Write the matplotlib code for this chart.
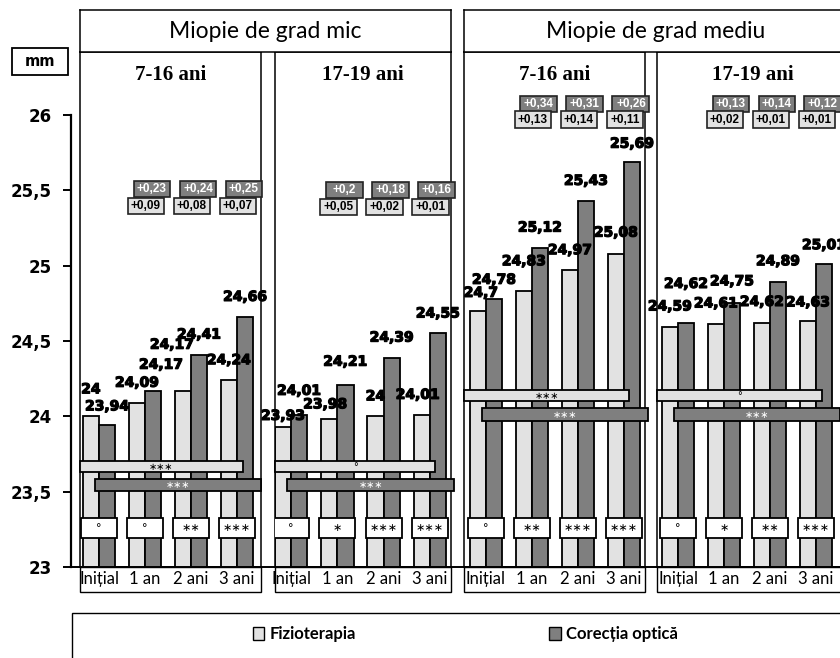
import matplotlib.pyplot as plt
import matplotlib.patheffects as pe
from matplotlib.patches import Rectangle, Patch

# data
groups = ["Miopie de grad mic", "Miopie de grad mediu"]
subgroups = ["7-16 ani", "17-19 ani", "7-16 ani", "17-19 ani"]
periods = ["Inițial", "1 an", "2 ani", "3 ani"]
series = ["Fizioterapia", "Corecția optică"]

fizio = [
    [24, 24.09, 24.17, 24.24],
    [23.93, 23.98, 24, 24.01],
    [24.7, 24.83, 24.97, 25.08],
    [24.59, 24.61, 24.62, 24.63],
]
optic = [
    [23.94, 24.17, 24.41, 24.66],
    [24.01, 24.21, 24.39, 24.55],
    [24.78, 25.12, 25.43, 25.69],
    [24.62, 24.75, 24.89, 25.01],
]
diff_fizio = [
    ["+0,09", "+0,08", "+0,07"],
    ["+0,05", "+0,02", "+0,01"],
    ["+0,13", "+0,14", "+0,11"],
    ["+0,02", "+0,01", "+0,01"],
]
diff_optic = [
    ["+0,23", "+0,24", "+0,25"],
    ["+0,2", "+0,18", "+0,16"],
    ["+0,34", "+0,31", "+0,26"],
    ["+0,13", "+0,14", "+0,12"],
]
sig_period = [
    ["°", "°", "∗∗", "∗∗∗"],
    ["°", "∗", "∗∗∗", "∗∗∗"],
    ["°", "∗∗", "∗∗∗", "∗∗∗"],
    ["°", "∗", "∗∗", "∗∗∗"],
]
trend_fizio = ["∗∗∗", "°", "∗∗∗", "°"]
trend_optic = ["∗∗∗", "∗∗∗", "∗∗∗", "∗∗∗"]

LIGHT = "#e2e2e2"
DARK = "#7f7f7f"
W, H = 840, 658
Y0, Y1 = 23, 26.418

# label placement (pixels above bar top, horizontal shift in pixels)
lab_up_fizio = [[27, 20, 46, 20], [11, 15, 20, 20], [18, 30, 20, 21], [21, 21, 21, 19]]
lab_up_optic = [[19, 26, 20, 20], [24, 23, 20, 20], [19, 20, 20, 18], [39, 22, 21, 19]]
lab_dx_fizio = [[0, 0, -11, 0], [0, -4, 0, -4], [3, 0, 0, 0], [0, 0, 0, 0]]
lab_dx_optic = [[0, 8, 0, 0], [0, 0, 0, 0], [0, 0, 0, 0], [0, 0, 0, 0]]


def fx(px):
    return px / W


def fy(py):
    return 1 - py / H


def fmt(v):
    return f"{v:g}".replace(".", ",")


fig = plt.figure(figsize=(W / 100, H / 100), dpi=100)

# y axis shared by all panels
ax0 = fig.add_axes([fx(71), fy(567), 1 - fx(71), fy(52) - fy(567)])
ax0.set_ylim(Y0, Y1)
ax0.set_xticks([])
for s in ["top", "right"]:
    ax0.spines[s].set_visible(False)
ax0.spines["left"].set_bounds(23, 26)
ax0.spines["left"].set_linewidth(1.6)
ax0.spines["bottom"].set_linewidth(1.4)
yt = [23, 23.5, 24, 24.5, 25, 25.5, 26]
ax0.set_yticks(yt)
ax0.set_yticklabels([fmt(t) for t in yt], fontweight="bold", fontsize=12)
ax0.tick_params(axis="y", direction="out", length=6, width=1.4, pad=8)

# panel geometry: left px, right px, xmin, xmax
panels = [(80, 261, -0.413, 3.52), (275, 451, -0.346, 3.456),
          (464, 645, -0.478, 3.457), (657, 848, -0.457, 3.696)]
diff_y = [(25.51, 25.395), (25.50, 25.388), (26.075, 25.97), (26.075, 25.97)]
trend_y = [(23.664, 23.544), (23.664, 23.544), (24.135, 24.012), (24.135, 24.012)]

bw = 0.35
stroke = [pe.withStroke(linewidth=0.9, foreground="black")]
for i, (l, r, xmin, xmax) in enumerate(panels):
    ax = fig.add_axes([fx(l), fy(567), fx(r) - fx(l), fy(52) - fy(567)])
    ax.set_facecolor("none")
    ax.set_xlim(xmin, xmax)
    ax.set_ylim(Y0, Y1)
    ax.set_yticks([])
    for s in ax.spines.values():
        s.set_linewidth(1.1)
    ax.set_xticks(range(4))
    ax.set_xticklabels(periods, family=["Lato", "DejaVu Sans"], fontsize=12)
    ax.tick_params(axis="x", length=0, pad=3)
    ax.add_patch(Rectangle((0, -0.049), 1, 0.049, transform=ax.transAxes,
                           fc="white", ec="black", lw=1, clip_on=False, zorder=0))
    ax.text(0.5, 0.955, subgroups[i], transform=ax.transAxes, ha="center", va="center",
            family="Liberation Serif", fontweight="bold", fontsize=15)

    xs = list(range(4))
    ax.bar([x - bw / 2 for x in xs], [v - Y0 for v in fizio[i]], bw, bottom=Y0,
           color=LIGHT, edgecolor="black", linewidth=1.3, zorder=2)
    ax.bar([x + bw / 2 for x in xs], [v - Y0 for v in optic[i]], bw, bottom=Y0,
           color=DARK, edgecolor="black", linewidth=1.3, zorder=2)

    for j, (x, v) in enumerate(zip(xs, fizio[i])):
        ax.annotate(fmt(v), (x - bw / 2, v),
                    xytext=(lab_dx_fizio[i][j] * 0.72, lab_up_fizio[i][j] * 0.72),
                    textcoords="offset points", ha="center", va="center", fontsize=10,
                    fontweight="bold", zorder=6, annotation_clip=False, path_effects=stroke)
    for j, (x, v) in enumerate(zip(xs, optic[i])):
        ax.annotate(fmt(v), (x + bw / 2, v),
                    xytext=(lab_dx_optic[i][j] * 0.72, lab_up_optic[i][j] * 0.72),
                    textcoords="offset points", ha="center", va="center", fontsize=10,
                    fontweight="bold", zorder=6, annotation_clip=False, path_effects=stroke)

    # change boxes above the bars
    bxw, bxh = 0.8, 0.108
    yd, yl = diff_y[i]
    for k in range(3):
        xc = k + 1 + 0.15
        ax.add_patch(Rectangle((xc - bxw / 2, yd - bxh / 2), bxw, bxh, fc=DARK, ec="#222222",
                               lw=1.2, zorder=4, clip_on=False))
        ax.text(xc, yd, diff_optic[i][k], ha="center", va="center", color="white",
                family="Liberation Sans", fontweight="bold", fontsize=8.5, zorder=5)
        xc = k + 1 + 0.02
        ax.add_patch(Rectangle((xc - bxw / 2, yl - bxh / 2), bxw, bxh, fc=LIGHT, ec="#222222",
                               lw=1.2, zorder=4, clip_on=False))
        ax.text(xc, yl, diff_fizio[i][k], ha="center", va="center", color="black",
                family="Liberation Sans", fontweight="bold", fontsize=8.5, zorder=5)

    # trend bars across the periods
    tl, td = trend_y[i]
    ax.barh(tl, 3.12 - xmin, left=xmin, height=0.073, color=LIGHT, edgecolor="black",
            linewidth=1.3, zorder=3, clip_on=False)
    ax.text((3.12 + xmin) / 2, tl, trend_fizio[i], ha="center", va="center",
            fontsize=7, color="black", zorder=5)
    ax.barh(td, 3.6, left=-0.08, height=0.08, color=DARK, edgecolor="black",
            linewidth=1.3, zorder=3, clip_on=False)
    ax.text(-0.08 + 1.8, td, trend_optic[i], ha="center", va="center",
            fontsize=7, color="white", zorder=5)

    # significance per period
    for x, s in zip(xs, sig_period[i]):
        ax.add_patch(Rectangle((x - 0.39, 23.194), 0.78, 0.133, fc="white", ec="black",
                               lw=1.3, zorder=4))
        ax.text(x, 23.26, s, ha="center", va="center", fontsize=8, zorder=5)

# group headers
for name, (l, r) in zip(groups, [(80, 451), (464, 848)]):
    hax = fig.add_axes([fx(l), fy(52), fx(r) - fx(l), fy(10) - fy(52)])
    hax.set_xticks([])
    hax.set_yticks([])
    for s in hax.spines.values():
        s.set_linewidth(1.1)
    hax.text(0.5, 0.5, name, transform=hax.transAxes, ha="center", va="center",
             family=["Lato", "DejaVu Sans"], fontsize=16.5)

# unit box
fig.add_artist(Rectangle((fx(12), fy(75)), fx(56), 27 / H, transform=fig.transFigure,
                         fc="white", ec="black", lw=1.3))
fig.text(fx(40), fy(61), "mm", ha="center", va="center", fontweight="bold", fontsize=10.5)

# legend
fig.add_artist(Rectangle((fx(72), fy(680)), fx(800), 67 / H, transform=fig.transFigure,
                         fc="white", ec="black", lw=1))
handles = [Patch(fc=LIGHT, ec="black", lw=1), Patch(fc=DARK, ec="black", lw=1)]
fig.legend(handles, series, loc="center", bbox_to_anchor=(fx(465), fy(634)), ncol=2,
           frameon=False, handlelength=0.7, handleheight=0.8, handletextpad=0.3,
           columnspacing=11.6, prop={"family": ["Lato", "DejaVu Sans"], "weight": "bold", "size": 12})

fig.savefig("out.png", dpi=100)
